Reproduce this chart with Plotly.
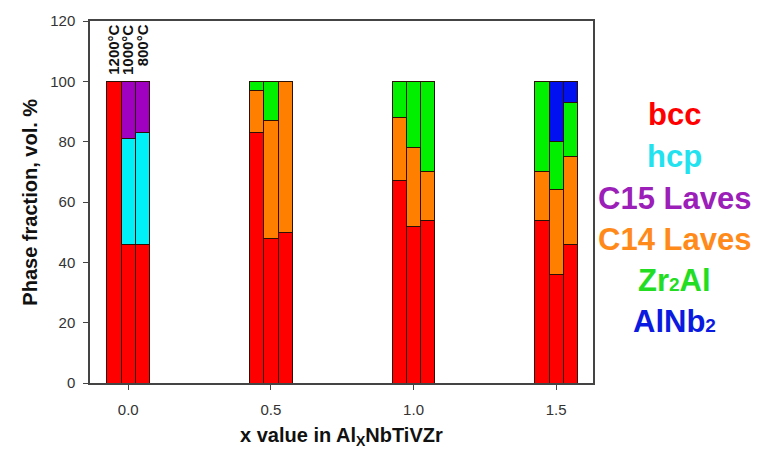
import plotly.graph_objects as go

# ---- data ----
groups = [0.0, 0.5, 1.0, 1.5]
temps = ["1200°C", "1000°C", "800°C"]
x_ticktext = ["0.0", "0.5", "1.0", "1.5"]
y_ticks = [0, 20, 40, 60, 80, 100, 120]

# values ordered: group (0.0,0.5,1.0,1.5) x temp (1200,1000,800)
bcc   = [100, 46, 46,  83, 48, 50,  67, 52, 54,  54, 36, 46]
hcp   = [None, 35, 37, None, None, None, None, None, None, None, None, None]
c15   = [None, 19, 17, None, None, None, None, None, None, None, None, None]
c14   = [None, None, None, 14, 39, 50, 21, 26, 16, 16, 28, 29]
zr2al = [None, None, None, 3, 13, None, 12, 22, 30, 30, 16, 18]
alnb2 = [None, None, None, None, None, None, None, None, None, None, 20, 7]

phases = [
    ("bcc", bcc, "#ff0000", "#ff0000", "bcc"),
    ("hcp", hcp, "#00f0f8", "#22e2f0", "hcp"),
    ("C15 Laves", c15, "#a000c0", "#9b1fb8", "C15 Laves"),
    ("C14 Laves", c14, "#ff8000", "#ff8a1a", "C14 Laves"),
    ("Zr2Al", zr2al, "#00f000", "#22dd22", "Zr<span style='font-size:19px'>2</span>Al"),
    ("AlNb2", alnb2, "#0010f0", "#0a1ae0", "AlNb<span style='font-size:19px'>2</span>"),
]

BW = 0.05
xpos = [g + (i - 1) * BW for g in groups for i in range(len(temps))]

fig = go.Figure()
for name, vals, col, _, _ in phases:
    fig.add_trace(go.Bar(
        x=xpos, y=vals, name=name, width=BW,
        marker=dict(color=col, line=dict(color="#2a1005", width=1)),
        showlegend=False,
    ))

FONT = "Arial, Liberation Sans, sans-serif"

# temperature labels above first group
for i, t in enumerate(temps):
    fig.add_annotation(x=groups[0] + (i - 1) * BW, y=119.4, xref="x", yref="y",
                       text="<b>%s</b>" % t, textangle=-90, showarrow=False,
                       xanchor="center", yanchor="top",
                       font=dict(family=FONT, size=15, color="#111"))

# legend-like colored labels
leg_y = [89, 75, 61.3, 47.5, 34, 20.5]
for (name, _, _, tcol, label), yy in zip(phases, leg_y):
    fig.add_annotation(x=1.163, y=yy, xref="paper", yref="y",
                       text="<b>%s</b>" % label, showarrow=False,
                       xanchor="center", yanchor="middle",
                       font=dict(family=FONT, size=31, color=tcol))

# axis titles
fig.add_annotation(x=0.5, y=-0.148, xref="paper", yref="paper",
                   text="<b>x value in Al<sub>X</sub>NbTiVZr</b>", showarrow=False,
                   xanchor="center", yanchor="middle",
                   font=dict(family=FONT, size=20, color="#111"))
fig.add_annotation(x=-0.12, y=0.5, xref="paper", yref="paper",
                   text="<b>Phase fraction, vol. %</b>", showarrow=False, textangle=-90,
                   xanchor="center", yanchor="middle",
                   font=dict(family=FONT, size=20, color="#111"))

fig.update_layout(
    width=766, height=456,
    margin=dict(l=90, r=173, t=21, b=73),
    barmode="stack",
    plot_bgcolor="white", paper_bgcolor="white",
    font=dict(family=FONT, size=15, color="#333"),
)
fig.update_xaxes(range=[-0.134, 1.629], tickvals=groups, ticktext=x_ticktext,
                 ticks="outside", ticklen=5, tickcolor="#444", showline=True,
                 linecolor="#444", linewidth=1.5, mirror=True, showgrid=False,
                 zeroline=False, tickfont=dict(size=15, color="#333"),
                 ticklabelstandoff=7)
fig.update_yaxes(range=[0, 120], tickvals=y_ticks,
                 ticks="outside", ticklen=5, tickcolor="#444", showline=True,
                 linecolor="#444", linewidth=1.5, mirror=True, showgrid=False,
                 zeroline=False, tickfont=dict(size=15, color="#333"),
                 ticklabelstandoff=5)

fig.write_html("out.html")
